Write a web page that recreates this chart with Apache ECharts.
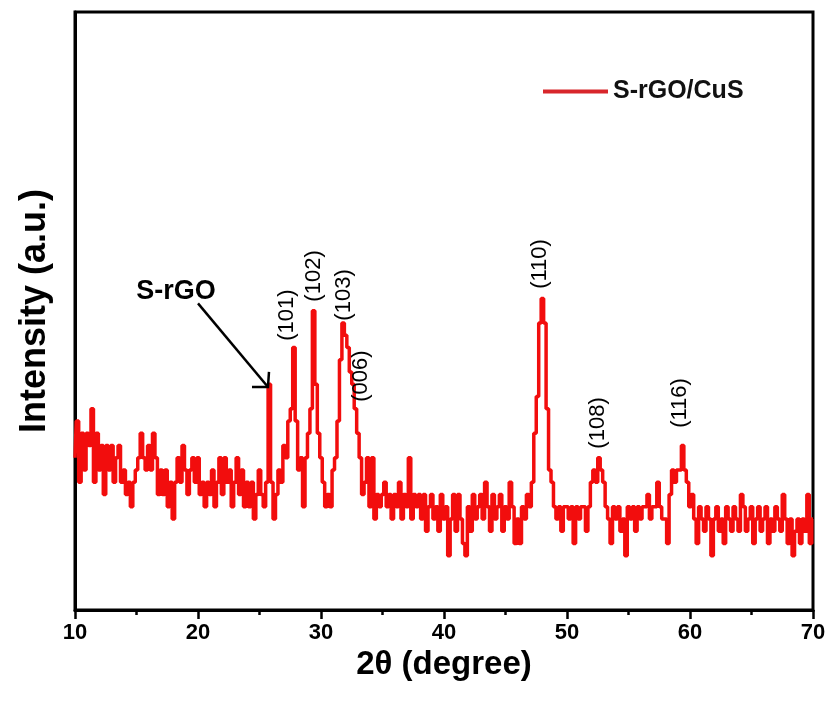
<!DOCTYPE html>
<html>
<head>
<meta charset="utf-8">
<script src="https://cdn.jsdelivr.net/npm/echarts@6/dist/echarts.min.js"></script>
<style>
html,body{margin:0;padding:0;background:#fff;}
#chart{width:836px;height:706px;}
</style>
</head>
<body>
<div id="chart"></div>
<script>
// 2θ scan: start and step of the recorded points
const scanStart = 10.0;
const scanStep = 0.2;
// intensity (a.u., counts level), one value per step
const intensity = [
  13,16,11,15,12,15,14,17,11,15,
  12,14,10,14,12,14,11,13,14,11,
  12,10,11,9,11,12,13,15,13,12,
  14,12,15,13,10,12,10,12,9,11,
  8,11,13,11,14,12,10,12,13,11,
  13,10,11,9,11,10,12,9,11,13,
  10,13,11,12,9,11,13,10,12,9,
  11,9,11,8,10,12,10,9,11,19,
  11,8,10,12,11,14,13,16,17,22,
  16,12,13,9,13,15,17,25,19,15,
  13,11,9,10,9,12,13,16,21,24,
  23,22,20,19,17,15,13,10,11,13,
  9,13,8,10,9,10,11,9,10,8,
  10,9,11,8,10,9,13,8,10,9,
  10,8,10,7,9,10,8,9,7,10,
  8,9,5,8,10,7,10,8,6,5,
  9,7,10,8,9,10,8,11,9,7,
  10,8,9,10,7,9,8,11,9,6,
  8,6,9,8,10,9,11,15,18,24,
  26,24,17,12,11,9,8,9,7,9,
  9,8,9,6,9,8,9,9,7,9,
  11,12,11,13,12,11,9,8,6,9,
  8,9,7,8,5,9,8,9,7,9,
  8,9,9,10,8,9,9,11,9,8,
  8,6,10,12,11,12,12,14,12,11,
  9,10,8,6,9,8,7,9,8,5,
  8,9,7,8,6,9,8,7,9,8,
  7,10,9,7,8,9,6,8,9,7,
  8,9,6,8,7,9,8,7,10,8,
  6,8,5,7,8,6,8,7,10,6,
  8
];
const xTicks = [10, 20, 30, 40, 50, 60, 70];
// peak (hkl) labels and their anchor points in data units (2θ, intensity)
const peakLabels = ['(101)', '(102)', '(103)', '(006)', '(110)', '(108)', '(116)'];
const peakLabelX = [27.24, 29.43, 31.87, 33.25, 47.80, 52.52, 59.19];
const peakLabelY = [24.65, 27.84, 26.29, 19.67, 28.82, 15.84, 17.47];
// S-rGO annotation: text anchor, arrow start and arrow tip (data units)
const srgoText = [18.21, 26.53];
const srgoArrowFrom = [20.0, 25.6];
const srgoArrowTo = [25.69, 18.78];

const seriesData = intensity.map((v, i) => [+(scanStart + i * scanStep).toFixed(2), v]);

const chart = echarts.init(document.getElementById('chart'), null, {renderer: 'canvas'});
const option = {
  backgroundColor: '#fff',
  animation: false,
  grid: {
    left: 75, right: 23, top: 12, bottom: 96,
    containLabel: false,
    show: true, borderColor: '#000', borderWidth: 3, backgroundColor: 'transparent'
  },
  legend: {
    show: true,
    left: 538, top: 74,
    icon: 'rect',
    itemWidth: 65, itemHeight: 4, itemGap: 10,
    textStyle: {fontFamily: "'Liberation Sans', Arial, sans-serif", fontWeight: 'bold', fontSize: 25, color: '#111'},
    data: [{name: 'S-rGO/CuS', itemStyle: {color: '#d8262b'}}]
  },
  xAxis: {
    type: 'value',
    min: xTicks[0], max: xTicks[xTicks.length - 1], interval: 10,
    name: '2θ (degree)',
    nameLocation: 'middle', nameGap: 33,
    nameTextStyle: {fontFamily: "'Liberation Sans', Arial, sans-serif", fontWeight: 'bold', fontSize: 33, color: '#000'},
    axisLine: {show: true, lineStyle: {color: '#000', width: 3}},
    axisTick: {show: true, inside: false, length: 9, lineStyle: {color: '#000', width: 2.5}},
    minorTick: {show: true, splitNumber: 2, length: 5, lineStyle: {color: '#000', width: 2.5}},
    axisLabel: {margin: 12, fontFamily: "'Liberation Sans Narrow', 'Arial Narrow', 'Liberation Sans', sans-serif", fontWeight: 'bold', fontSize: 22, color: '#000'},
    splitLine: {show: false}
  },
  yAxis: {
    type: 'value',
    min: 0.57, max: 49.39,
    name: 'Intensity (a.u.)',
    nameLocation: 'middle', nameGap: 22,
    nameTextStyle: {fontFamily: "'Liberation Sans', Arial, sans-serif", fontWeight: 'bold', fontSize: 36, color: '#000'},
    axisLine: {show: true, lineStyle: {color: '#000', width: 3}},
    axisTick: {show: false},
    axisLabel: {show: false},
    splitLine: {show: false}
  },
  series: [{
    name: 'S-rGO/CuS',
    type: 'line',
    data: seriesData,
    step: 'middle',
    showSymbol: false,
    symbol: 'none',
    lineStyle: {color: '#f20d0d', width: 3.5},
    itemStyle: {color: '#f20d0d'},
    z: 3
  }]
};
chart.setOption(option);

function px(p) { return chart.convertToPixel({gridIndex: 0}, p); }
const graphics = [];
peakLabels.forEach((t, i) => {
  const p = px([peakLabelX[i], peakLabelY[i]]);
  graphics.push({
    type: 'text', x: p[0], y: p[1], rotation: Math.PI / 2,
    style: {text: t, fill: '#000', font: "22px 'Liberation Sans', Arial, sans-serif", align: 'center', verticalAlign: 'middle'},
    z: 10
  });
});
const tp = px(srgoText);
graphics.push({
  type: 'text', x: tp[0], y: tp[1],
  style: {text: 'S-rGO', fill: '#000', font: "bold 27px 'Liberation Sans', Arial, sans-serif", align: 'center', verticalAlign: 'middle'},
  z: 10
});
const a0 = px(srgoArrowFrom), a1 = px(srgoArrowTo);
graphics.push({
  type: 'polyline', shape: {points: [a0, a1]},
  style: {stroke: '#000', lineWidth: 2.5, fill: null}, z: 10
});
graphics.push({
  type: 'polyline', shape: {points: [[a1[0] + 1, a1[1] - 15], a1, [a1[0] - 16, a1[1]]]},
  style: {stroke: '#000', lineWidth: 2.5, fill: null}, z: 10
});
chart.setOption({graphic: graphics});
</script>
</body>
</html>
